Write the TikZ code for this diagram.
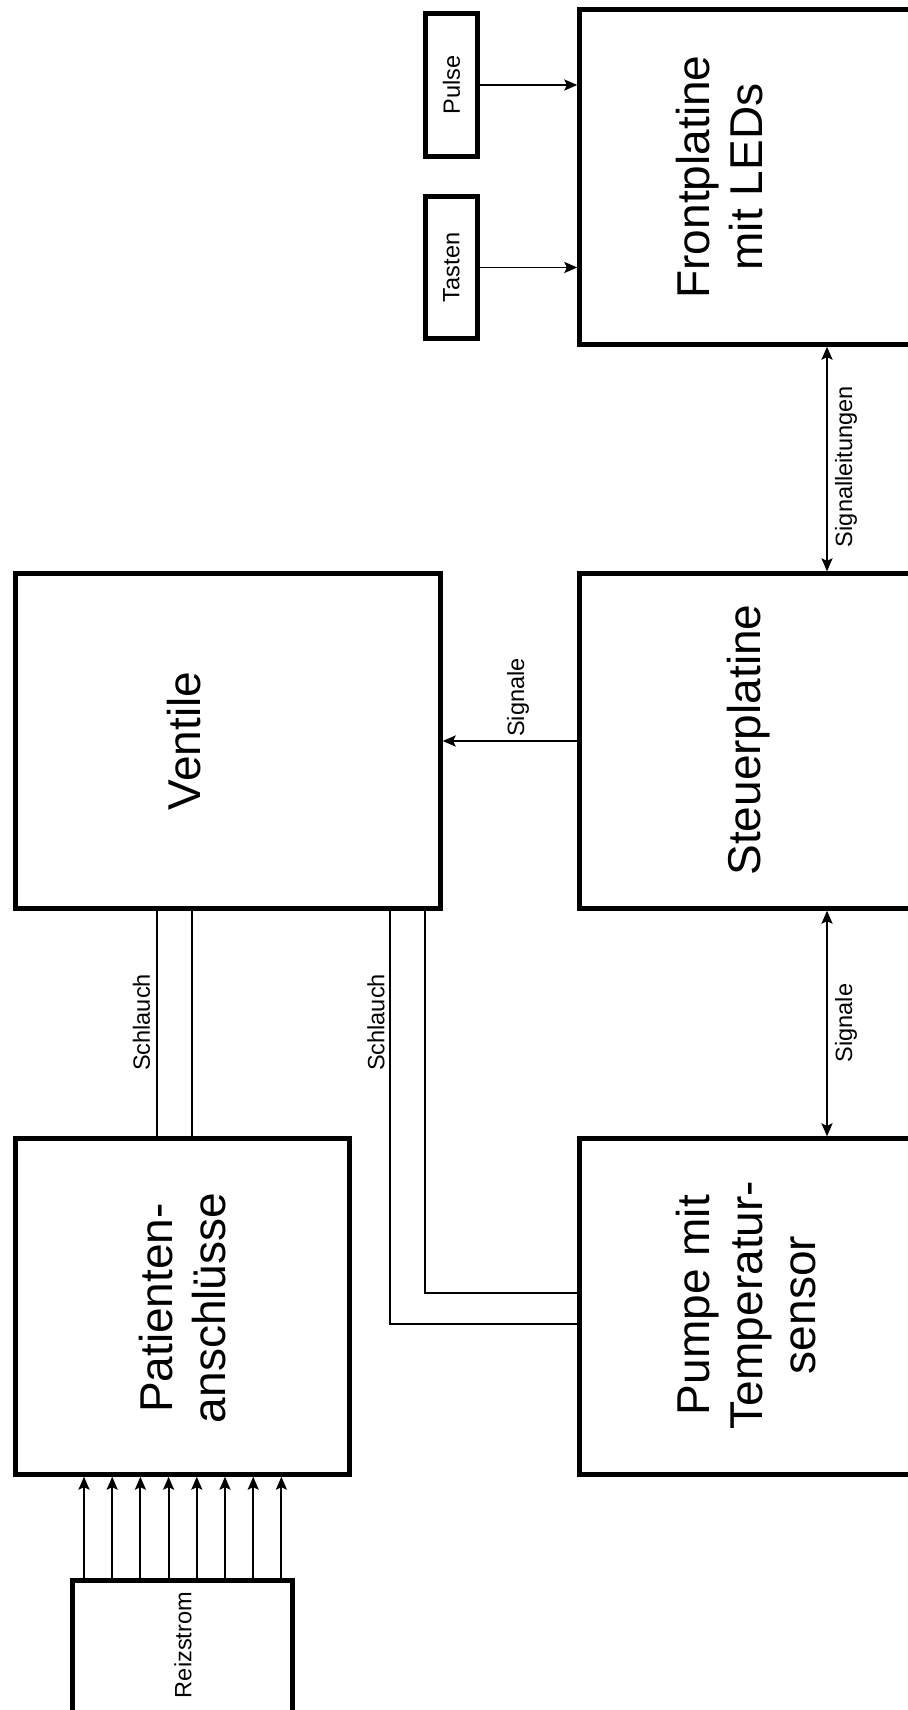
\documentclass[tikz,border=0pt]{standalone}
\usepackage{fontspec}
\setmainfont{Liberation Sans}
\usetikzlibrary{arrows.meta,positioning,calc}
\tikzset{
  block/.style={draw=black,line width=2.5pt,inner sep=0pt},
  bigtext/.style={rotate=90,inner sep=0pt,align=center,
    font=\fontsize{26.2}{30.2}\selectfont},
  smalltext/.style={rotate=90,inner sep=0pt,font=\fontsize{13.4}{16}\selectfont},
  arrow/.style={-{Stealth[length=0.26cm,width=0.22cm,inset=0.05cm]},line width=1.1pt},
  twoway/.style={{Stealth[length=0.26cm,width=0.22cm,inset=0.05cm]}-{Stealth[length=0.26cm,width=0.22cm,inset=0.05cm]},
    line width=1.1pt},
  hose/.style={line width=1.1pt}
}

\begin{document}
\begin{tikzpicture}[x=0.02cm,y=-0.02cm]
      \useasboundingbox (0,0) rectangle (908,1710);
      \clip (0,0) rectangle (908,1710);
      % boxes
      \node[block,minimum width=8.50cm,minimum height=6.70cm] (ventile) at (228,741) {};
      \node[block,minimum width=6.86cm,minimum height=6.70cm] (steuer) at (751,741) {};
      \node[block,minimum width=6.86cm,minimum height=6.70cm] (front) at (751,177) {};
      \node[block,minimum width=6.68cm,minimum height=6.72cm] (patient) at (182.5,1306.5) {};
      \node[block,minimum width=6.86cm,minimum height=6.72cm] (pumpe) at (751,1306.5) {};
      \node[block,minimum width=1.04cm,minimum height=2.86cm] (pulse) at (451.5,85) {};
      \node[block,minimum width=1.04cm,minimum height=2.84cm] (tasten) at (451.5,267.5) {};
      \node[block,minimum width=4.40cm,minimum height=2.94cm] (reiz) at (182.5,1654) {};
      % texts
      \node[bigtext] (ventiletext) at (184,741) {Ventile};
      \node[bigtext] (steuertext) at (748.5,740) {Steuerplatine};
      \node[bigtext] (fronttext) at (719.5,177) {Frontplatine\\mit LEDs};
      \node[bigtext] (pumpetext) at (746,1305) {Pumpe mit\\Temperatur-\\sensor};
      \node[bigtext] (patienttext) at (182.5,1308) {Patienten-\\anschlüsse};
      \node[smalltext] (pulsetext) at (pulse) {Pulse};
      \node[smalltext] (tastentext) at (tasten) {Tasten};
      \node[smalltext] (reiztext) at (183,1645) {Reizstrom};
      % connectors
      \coordinate (bus) at (827,0);
      \draw[arrow] (pulse.east) -- (pulse.east -| front.west);
      \draw[arrow] (tasten.east) -- (tasten.east -| front.west);
      \draw[arrow] (steuer.west) -- (ventile.east);
      \node[smalltext] (signaltext) at (518,697.5) {Signale};
      \draw[twoway] (front.south -| bus) -- (steuer.north -| bus);
      \node[smalltext] (leitungtext) at (846,466.5) {Signalleitungen};
      \draw[twoway] (steuer.south -| bus) -- (pumpe.north -| bus);
      \node[smalltext] (signal2text) at (846,1023) {Signale};
      \foreach \x in {157,192}
        \draw[hose] (ventile.south -| \x,0) -- (patient.north -| \x,0);
      \node[smalltext] (hose1text) at (141.5,1022.5) {Schlauch};
      \draw[hose] (ventile.south -| 390,0) |- (pumpe.west |- 0,1324);
      \draw[hose] (ventile.south -| 425,0) |- (pumpe.west |- 0,1293);
      \node[smalltext] (hose2text) at (376,1022.5) {Schlauch};
      \foreach \i in {0,...,7} {
        \pgfmathsetmacro\wirex{84+28.2*\i}
        \draw[arrow] (reiz.north -| \wirex,0) -- (patient.south -| \wirex,0);
      }
    \end{tikzpicture}
\end{document}
